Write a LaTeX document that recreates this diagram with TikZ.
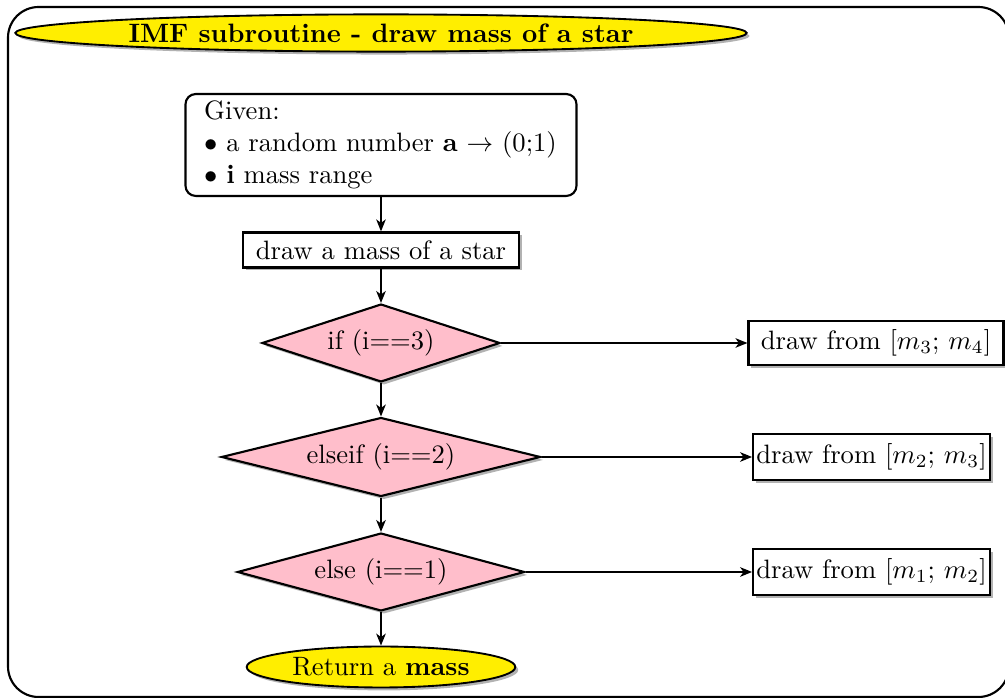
\documentclass[tikz,border=0pt]{standalone}
\usetikzlibrary{shapes.geometric,shadows,arrows.meta}

\definecolor{banneryellow}{RGB}{255,238,0}
\definecolor{decisionpink}{RGB}{255,190,203}

\begin{document}
\begin{tikzpicture}[x=0.376pt,y=-0.376pt,
  softshadow/.style={drop shadow={shadow xshift=1.1pt,shadow yshift=-1.1pt,fill=black!55,opacity=0.55}},
  outerframe/.style={line width=0.8pt,rounded corners=11.5pt},
  banner/.style={ellipse,draw,line width=0.7pt,fill=banneryellow,inner sep=0pt,softshadow},
  infobox/.style={draw,line width=0.8pt,rounded corners=3.8pt,align=left,text width=133pt,
                  inner xsep=7pt,inner ysep=2.6pt,fill=white},
  stepbox/.style={rectangle,draw,line width=0.8pt,fill=white,inner sep=0pt,softshadow},
  decision/.style={diamond,aspect=4,inner sep=0pt,draw,line width=0.8pt,fill=decisionpink,softshadow},
  flow/.style={line width=0.6pt,-{Stealth[length=4.5pt,width=3.6pt,inset=1.3pt]}}
]
\path[use as bounding box,clip] (0,0) rectangle (1005,698);

% surrounding frame, running off the right edge
\draw[outerframe] (8,7) rectangle (1009,697);

% title banner
\node[banner,minimum width=275pt,minimum height=14pt] (title) at (381,33)
  {\bfseries IMF subroutine - draw mass of a star};

% input description
\node[infobox] (given) at (381,145)
  {Given:\\
   $\bullet$ a random number \textbf{a} $\rightarrow$ (0;1)\\
   $\bullet$ \textbf{i} mass range};

% main step
\node[stepbox,minimum width=104pt,minimum height=13.2pt] (drawstep) at (381,250)
  {draw a mass of a star};

% decisions
\node[decision,minimum width=89.5pt,minimum height=29.3pt] (d3) at (381,343) {if (i==3)};
\node[decision,minimum width=120pt,minimum height=29.7pt] (d2) at (381,457) {elseif (i==2)};
\node[decision,minimum width=108pt,minimum height=29.3pt] (d1) at (381,572) {else (i==1)};

% mass ranges
\node[stepbox,minimum width=95.9pt,minimum height=16.5pt] (r3) at (876,343) {draw from $[m_3$; $m_4]$};
\node[stepbox,minimum width=89pt,minimum height=17pt] (r2) at (871.5,457) {draw from $[m_2$; $m_3]$};
\node[stepbox,minimum width=89pt,minimum height=17pt] (r1) at (871.5,572) {draw from $[m_1$; $m_2]$};

% result
\node[banner,minimum width=101pt,minimum height=15.4pt] (result) at (381,667)
  {Return a \textbf{mass}};

% connectors
\draw[flow] (given.south) -- (drawstep.north);
\draw[flow] (drawstep.south) -- (d3.north);
\draw[flow] (d3.south) -- (d2.north);
\draw[flow] (d2.south) -- (d1.north);
\draw[flow] (d1.south) -- (result.north);
\draw[flow] (d3.east) -- (r3.west);
\draw[flow] (d2.east) -- (r2.west);
\draw[flow] (d1.east) -- (r1.west);
\end{tikzpicture}
\end{document}
